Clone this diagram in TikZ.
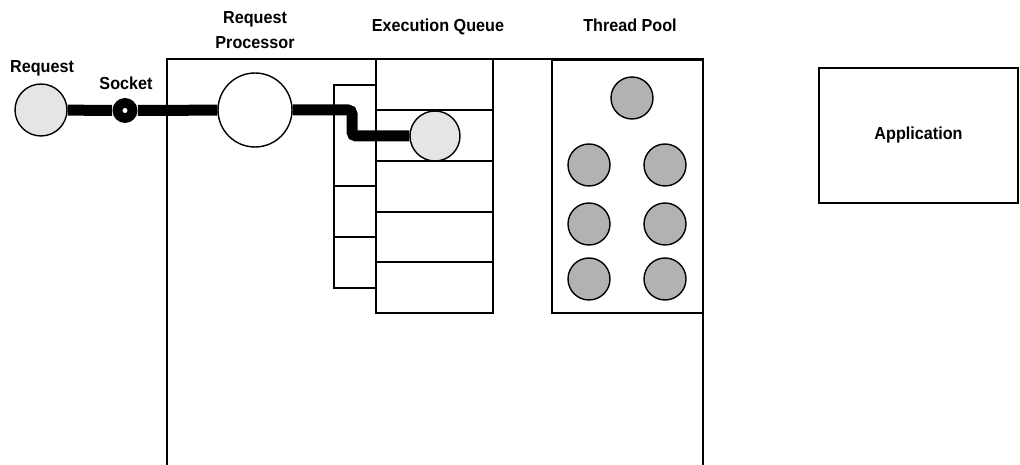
\documentclass[tikz,border=0pt]{standalone}
\usepackage{fontspec}
\setmainfont{Liberation Sans}[FakeStretch=0.93]
\usepackage{tikz}
\usetikzlibrary{positioning}

\begin{document}
\begin{tikzpicture}[
        x=0.02cm, y=-0.02cm,
        label/.style={font=\fontsize{9.9}{14.2}\selectfont\bfseries, align=center},
        cell/.style={rectangle, draw, line width=0.8pt, inner sep=0pt, outer sep=0pt},
        msg/.style={circle, draw, line width=0.8pt, fill=gray!20, inner sep=0pt, minimum size=1.04cm},
        worker/.style={circle, draw, line width=0.8pt, fill=gray!60, inner sep=0pt, minimum size=0.84cm},
        wire/.style={line width=0.22cm, rounded corners=0.08cm}
    ]
    \useasboundingbox (0, 0) rectangle (1020, 465);

    % Outer server box (open at the bottom)
    \draw[line width=1pt] (167, 465) -- (167, 59) -- (703, 59) -- (703, 465);

    % Execution queue: slots
    \node[cell, minimum width=2.34cm, minimum height=1.02cm] (slot1) at (434.5, 84.5) {};
    \node[cell, minimum width=2.34cm, minimum height=1.02cm] (slot2) at (434.5, 135.5) {};
    \node[cell, minimum width=2.34cm, minimum height=1.02cm] (slot3) at (434.5, 186.5) {};
    \node[cell, minimum width=2.34cm, minimum height=1.02cm] (slot4) at (434.5, 237) {};
    \node[cell, minimum width=2.34cm, minimum height=1.02cm] (slot5) at (434.5, 287.5) {};

    % Side column next to the queue
    \node[cell, minimum width=0.84cm, minimum height=2.02cm] (side1) at (355, 135.5) {};
    \node[cell, minimum width=0.84cm, minimum height=1.02cm] (side2) at (355, 211.5) {};
    \node[cell, minimum width=0.84cm, minimum height=1.02cm] (side3) at (355, 262.5) {};

    % Thread pool
    \node[cell, line width=1pt, minimum width=3.02cm, minimum height=5.06cm] (pool) at (627.5, 186.5) {};
    \node[worker] (t0) at (632, 98) {};
    \node[worker] (t1) at (589, 165) {};
    \node[worker] (t2) at (665, 165) {};
    \node[worker] (t3) at (589, 224) {};
    \node[worker] (t4) at (665, 224) {};
    \node[worker] (t5) at (589, 279) {};
    \node[worker] (t6) at (665, 279) {};

    % Application
    \node[cell, line width=1pt, minimum width=3.98cm, minimum height=2.7cm, label] (app) at (918.5, 135.5) {Application};

    % Request path
    \node[msg] (req) at (41, 110) {};
    \node[circle, fill=black, inner sep=0pt, minimum size=0.5cm] (sock) at (125, 110.5) {};
    \node[circle, fill=white, inner sep=0pt, minimum size=0.1cm] (hole) at (sock) {};
    \node[msg, fill=white, minimum size=1.48cm] (proc) at (255, 110) {};
    \node[msg, minimum size=1.0cm] (job) at (435, 136) {};
    \coordinate (bend) at (352, 110);

    % --- Edges ---
    \draw[wire] (req) -- (sock);
    \draw[wire] (sock) -- (proc);
    \draw[wire] (proc) -- (bend) |- (job);

    % Labels
    \node[label] (req_lbl) at (42, 68) {Request};
    \node[label] (sock_lbl) at (126, 83) {Socket};
    \node[label] (proc_lbl) at (255, 30) {Request\\Processor};
    \node[label] (queue_lbl) at (438, 27) {Execution Queue};
    \node[label] (pool_lbl) at (630, 25) {Thread Pool};

\end{tikzpicture}
\end{document}
